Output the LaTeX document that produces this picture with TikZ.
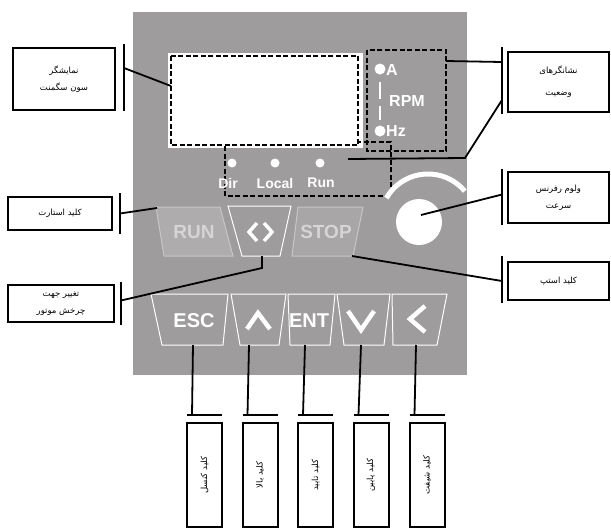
\documentclass[tikz,border=0pt]{standalone}
\usepackage{fontspec}
\setmainfont{Liberation Sans}
\newfontfamily\arabicfont[Script=Arabic]{DejaVu Sans}
\TeXXeTstate=1
\newcommand{\fa}[1]{{\arabicfont\beginR #1\endR}}

\definecolor{panelgray}{RGB}{158,156,157}
\definecolor{runkey}{RGB}{174,172,173}
\definecolor{stopkey}{RGB}{168,166,167}
\definecolor{keylabel}{RGB}{214,213,214}
\definecolor{keyrim}{RGB}{200,199,200}

\tikzset{
  lbl/.style={draw, line width=2pt, align=center, inner sep=0pt,
    font=\fontsize{8.5}{17}\selectfont},
  vlbl/.style={draw, line width=2pt, inner sep=0pt,
    minimum width=35pt, minimum height=104pt},
  lead/.style={line width=1.8pt},
  frame/.style={line width=2pt, dash pattern=on 5pt off 2.5pt},
  keyedge/.style={draw=white, line width=1pt},
  keytxt/.style={font=\bfseries\fontsize{19}{19}\selectfont, text=white, inner sep=0pt},
  ledtxt/.style={font=\bfseries\fontsize{14}{14}\selectfont, text=white, inner sep=0pt},
  chev/.style={white, line width=4.5pt},
}

\begin{document}
\begin{tikzpicture}[x=1pt,y=-1pt]
\useasboundingbox (0,0) rectangle (611,528);
% 面板
\fill[panelgray] (133,12) rectangle (467,375);

% 显示屏
\node[fill=white, minimum width=195pt, minimum height=95pt, inner sep=0pt] (disp) at (265.5,100.5) {};
\draw[frame] (171,56) rectangle (358,145);
\coordinate (dispin) at (171,86);

% 状态指示灯
\draw[frame] (367,50) rectangle (446,151);
\draw[frame] (225,146) -- (225,196) -- (391,196) -- (391,142) -- (359,142);
\coordinate (statin) at (446,61);
\coordinate (ledin) at (348,159);
\fill[white] (380,69) circle (5.5pt) (380,131) circle (5.5pt);
\draw[white, line width=2pt] (380,82) -- (380,99) (380,106) -- (380,120);
\node[ledtxt, font=\bfseries\fontsize{16}{16}\selectfont, anchor=west] (amp) at (386,70) {A};
\node[ledtxt, font=\bfseries\fontsize{16}{16}\selectfont] (rpm) at (407,101) {RPM};
\node[ledtxt, font=\bfseries\fontsize{16}{16}\selectfont, anchor=west] (hz) at (386,131) {Hz};
\fill[white] (232,163) circle (4.5pt) (275,163) circle (4.5pt) (320,163) circle (4.5pt);
\node[ledtxt] (dir) at (228,183) {Dir};
\node[ledtxt] (local) at (275,183) {Local};
\node[ledtxt] (run) at (321,183) {Run};

% 旋钮
\draw[white, line width=5pt] plot[domain=150:40, samples=40] ({428+48*cos(\x)}, {222-48*sin(\x)});
\fill[white] (419,222) circle (23pt);
\coordinate (knobin) at (421,215);

% 第一排按键
\filldraw[fill=runkey, draw=keyrim, line width=1pt] (156,207) -- (220,207) -- (233,256) -- (164,256) -- cycle;
\node[keytxt, text=keylabel] (runtxt) at (194,232) {RUN};
\coordinate (runkey) at (157,208);
\draw[keyedge] (228,206) -- (291,206) -- (280,256) -- (242,256) -- cycle;
\draw[chev, line width=3.5pt] (257,223) -- (249,232) -- (257,241);
\draw[chev, line width=3.5pt] (264,223) -- (272,232) -- (264,241);
\coordinate (dirkey) at (262,256);
\filldraw[fill=stopkey, draw=keyrim, line width=1pt] (298,207) -- (363,207) -- (353,256) -- (292,256) -- cycle;
\node[keytxt, text=keylabel] (stoptxt) at (326,232) {STOP};
\coordinate (stopkey) at (352,256);

% 第二排按键
\draw[keyedge] (151,294) -- (228,294) -- (223,345) -- (162,345) -- cycle;
\node[keytxt, font=\bfseries\fontsize{20}{20}\selectfont] (esc) at (194,321) {ESC};
\draw[keyedge] (231,294) -- (286,294) -- (279,345) -- (240,345) -- cycle;
\draw[chev] (247,329) -- (258,313) -- (270,329);
\draw[keyedge] (288,294) -- (335,294) -- (330,345) -- (290,345) -- cycle;
\node[keytxt, font=\bfseries\fontsize{20}{20}\selectfont] (ent) at (309,321) {ENT};
\draw[keyedge] (337,294) -- (390,294) -- (384,345) -- (344,345) -- cycle;
\draw[chev] (348,311) -- (361,330) -- (374,311);
\draw[keyedge] (392,294) -- (447,294) -- (437,345) -- (393,345) -- cycle;
\draw[chev] (425,306) -- (410,319) -- (425,332);
\coordinate (kesc) at (193,345);
\coordinate (kup) at (249,345);
\coordinate (kent) at (305,345);
\coordinate (kdown) at (361,345);
\coordinate (kleft) at (416,345);

% 左侧说明
\node[lbl, minimum width=102pt, minimum height=62pt] (lseg) at (64,79) {\fa{نمایشگر}\\\fa{سون سگمنت}};
\draw[lead] ([xshift=8pt,yshift=3pt]lseg.north east) -- ([xshift=8pt]lseg.south east);
\draw[lead] ([xshift=8pt,yshift=11pt]lseg.east) -- (dispin);

\node[lbl, minimum width=104pt, minimum height=33pt] (lrun) at (60,213.5) {\fa{کلید استارت}};
\draw[lead] ([xshift=7pt,yshift=3pt]lrun.north east) -- ([xshift=7pt,yshift=-3pt]lrun.south east);
\draw[lead] ([xshift=7pt]lrun.east) -- (runkey);

\node[lbl, minimum width=106pt, minimum height=37pt] (ldir) at (61,303.5) {\fa{تغییر جهت}\\\fa{چرخش موتور}};
\draw[lead] ([xshift=6pt,yshift=2pt]ldir.north east) -- ([xshift=6pt,yshift=-2pt]ldir.south east);
\draw[lead] ([xshift=6pt,yshift=3pt]ldir.east) -- (262,268) -- (dirkey);

% 右侧说明
\node[lbl, minimum width=101pt, minimum height=60pt, font=\fontsize{8.5}{22}\selectfont] (lstat) at (558.5,82) {\fa{نشانگرهای}\\\fa{وضعیت}};
\draw[lead] ([xshift=-5pt,yshift=4pt]lstat.north west) -- ([xshift=-5pt,yshift=-1pt]lstat.south west);
\draw[lead] ([xshift=-5pt,yshift=20pt]lstat.west) -- (statin);
\draw[lead] ([xshift=-5pt,yshift=-18pt]lstat.west) -- (465,158) -- (ledin);

\node[lbl, minimum width=101pt, minimum height=51pt] (lknob) at (558.5,197.5) {\fa{ولوم رفرنس}\\\fa{سرعت}};
\draw[lead] ([xshift=-5pt,yshift=2pt]lknob.north west) -- ([xshift=-5pt,yshift=-1pt]lknob.south west);
\draw[lead] ([xshift=-5pt,yshift=3pt]lknob.west) -- (knobin);

\node[lbl, minimum width=101pt, minimum height=38pt] (lstop) at (558.5,281) {\fa{کلید استپ}};
\draw[lead] ([xshift=-5pt,yshift=5pt]lstop.north west) -- ([xshift=-5pt,yshift=-2pt]lstop.south west);
\draw[lead] ([xshift=-5pt]lstop.west) -- (stopkey);

% 下方说明
\foreach \nm/\cx/\txt in {esc/204.5/کلید کنسل, up/260/کلید بالا, ent/315.5/کلید تایید,
    down/371/کلید پایین, left/427/کلید شیفت}{
  \node[vlbl, label={[rotate=90, font=\fontsize{8.5}{9}\selectfont]center:\fa{\txt}}] (l\nm) at (\cx,475) {};
  \draw[lead] ([xshift=1pt,yshift=7pt]l\nm.north west) -- ([xshift=-1pt,yshift=7pt]l\nm.north east);
  \draw[lead] ([xshift=6pt,yshift=7pt]l\nm.north west) -- (k\nm);
}
\end{tikzpicture}
\end{document}
